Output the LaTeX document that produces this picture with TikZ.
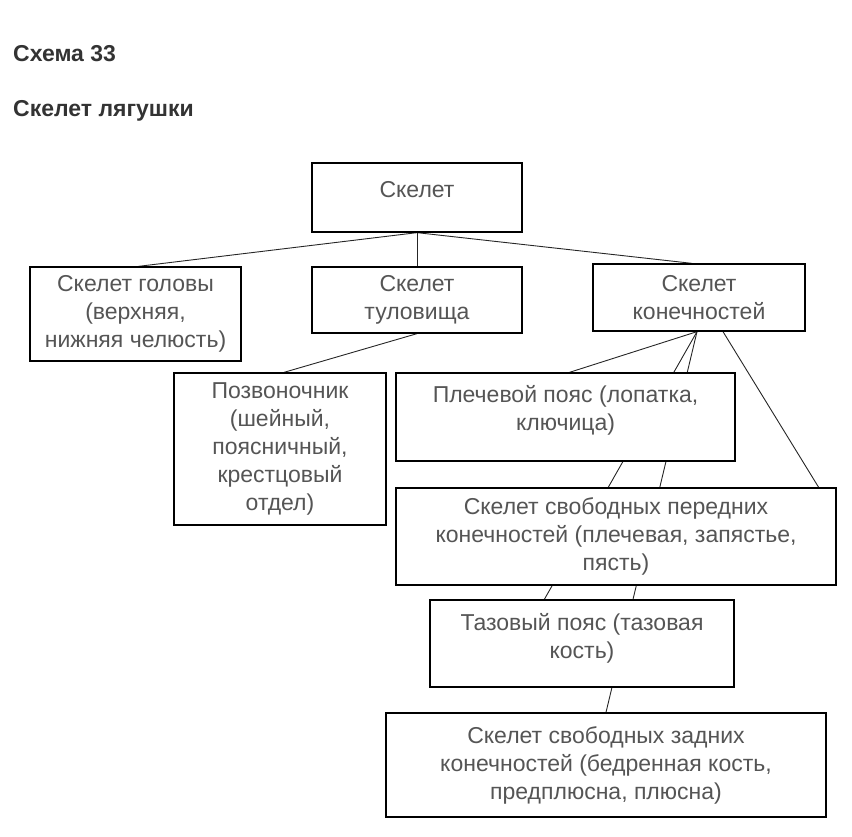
\documentclass[tikz,border=0pt]{standalone}
\usepackage{fontspec}
\setmainfont{Liberation Sans}
\usepackage{tikz}
\usetikzlibrary{shapes,backgrounds}
\definecolor{boxtext}{HTML}{555555}
\definecolor{headtext}{HTML}{333333}
\tikzstyle{block} = [rectangle, draw, line width=1.3pt, fill=white, align=center,
    text=boxtext, inner sep=0pt, font=\fontsize{23}{28}\selectfont]
\tikzstyle{heading} = [anchor=base west, inner sep=0pt, text=headtext,
    font=\fontsize{23}{26}\selectfont\bfseries]
\tikzstyle{line} = [draw, line width=0.9pt, black!85]

\begin{document}
\begin{tikzpicture}[x=1pt, y=-1pt]
    \useasboundingbox (0,0) rectangle (852,837);
    % Headings
    \node [heading] (title) at (13,62) {Схема 33};
    \node [heading] (subtitle) at (13,117) {Скелет лягушки};

    % Place nodes
    \node [block, minimum width=210pt, minimum height=69pt, text depth=16pt] (skel) at (417,197.5) {Скелет};
    \node [block, minimum width=211pt, minimum height=94pt] (head) at (135.5,314) {Скелет головы\\(верхняя,\\нижняя челюсть)};
    \node [block, minimum width=210pt, minimum height=66pt] (trunk) at (417,300) {Скелет\\туловища};
    \node [block, minimum width=212pt, minimum height=67pt] (limbs) at (699,297.5) {Скелет\\конечностей};
    \node [block, minimum width=212pt, minimum height=152pt] (spine) at (280,449) {Позвоночник\\(шейный,\\поясничный,\\крестцовый\\отдел)};
    \node [block, minimum width=339pt, minimum height=88pt, text depth=18pt] (shoulder) at (565.5,417) {Плечевой пояс (лопатка,\\ключица)};
    \node [block, minimum width=440pt, minimum height=97pt] (fore) at (616,536.5) {Скелет свободных передних\\конечностей (плечевая, запястье,\\пясть)};
    \node [block, minimum width=304pt, minimum height=87pt, text depth=16pt] (pelvis) at (582,643.5) {Тазовый пояс (тазовая\\кость)};
    \node [block, minimum width=440pt, minimum height=104pt] (hind) at (606,765) {Скелет свободных задних\\конечностей (бедренная кость,\\предплюсна, плюсна)};

    % Draw edges
    \begin{scope}[on background layer]
    \path [line] (skel.south) -- ([xshift=3pt]head.north);
    \path [line] (skel.south) -- (trunk.north);
    \path [line] (skel.south) -- ([xshift=-7pt]limbs.north);
    \path [line] (trunk.south) -- ([xshift=4pt]spine.north);
    \path [line] ([xshift=-2pt]limbs.south) -- ([xshift=4pt]shoulder.north);
    \path [line] ([xshift=-2pt]limbs.south) -- ([xshift=115pt]pelvis.north west);
    \path [line] ([xshift=-2pt]limbs.south) -- (hind.north);
    \path [line] ([xshift=24pt]limbs.south) -- ([xshift=-18pt]fore.north east);
    \end{scope}
\end{tikzpicture}
\end{document}
